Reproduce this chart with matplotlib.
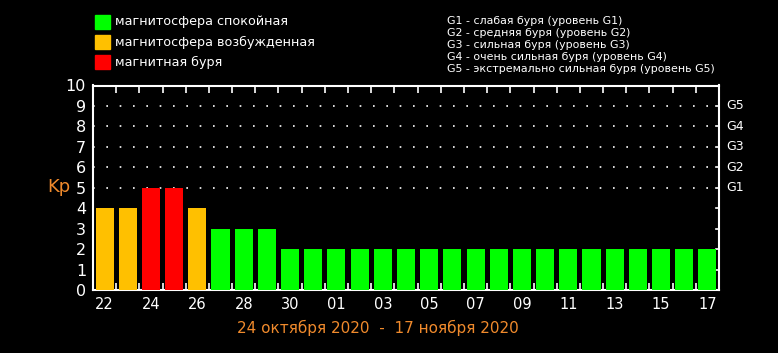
import numpy as np
import matplotlib
matplotlib.use('Agg')
import matplotlib.pyplot as plt
from matplotlib.patches import Rectangle

# данные
days = ['22', '23', '24', '25', '26', '27', '28', '29', '30', '31',
        '01', '02', '03', '04', '05', '06', '07', '08', '09', '10',
        '11', '12', '13', '14', '15', '16', '17']
kp = [4, 4, 5, 5, 4, 3, 3, 3, 2, 2,
      2, 2, 2, 2, 2, 2, 2, 2, 2, 2,
      2, 2, 2, 2, 2, 2, 2]
g_levels = ['G1', 'G2', 'G3', 'G4', 'G5']
g_text = ['G1 - слабая буря (уровень G1)',
          'G2 - средняя буря (уровень G2)',
          'G3 - сильная буря (уровень G3)',
          'G4 - очень сильная буря (уровень G4)',
          'G5 - экстремально сильная буря (уровень G5)']
legend_labels = ['магнитосфера спокойная', 'магнитосфера возбужденная', 'магнитная буря']

GREEN = '#00ff00'
ORANGE = '#ffc000'
RED = '#ff0000'
KPCOL = '#f08a2c'
legend_colors = [GREEN, ORANGE, RED]

def kp_color(v):
    if v >= 5:
        return RED
    if v == 4:
        return ORANGE
    return GREEN

fig = plt.figure(figsize=(7.78, 3.53), dpi=100, facecolor='black')
ax = fig.add_axes([93/778, 1-290/353, (719-93)/778, (290-85.5)/353])
ax.set_facecolor('black')

x = np.arange(len(days))
ax.bar(x, kp, width=0.78, color=[kp_color(v) for v in kp], zorder=3)

ax.set_xlim(-0.5, len(days) - 0.5)
ax.set_ylim(0, 10)

for s in ax.spines.values():
    s.set_color('white')
    s.set_linewidth(1.5)

# пунктирная сетка 5..9
for yv in range(5, 10):
    ax.axhline(yv, color='white', linestyle=(0, (1, 7)), linewidth=1.2, zorder=1)

# подписи оси X
ax.set_xticks(x[::2])
ax.set_xticklabels(days[::2], color='white', fontsize=10.5)
ax.tick_params(axis='x', length=0, pad=5)
ax.set_xticks(np.arange(0.5, len(days) - 0.5), minor=True)
ax.tick_params(axis='x', which='minor', direction='in', length=5, width=1.2,
               color='white', top=True, bottom=True)

ax.set_yticks(range(0, 11))
ax.set_yticklabels([str(i) for i in range(11)], color='white', fontsize=11.5)
ax.tick_params(axis='y', length=0, pad=5)

# правые засечки
for yv in range(1, 10):
    ax.plot([1.0, 0.995], [yv, yv], color='white', lw=1.2,
            transform=ax.get_yaxis_transform(), clip_on=False)

for i, g in enumerate(g_levels):
    ax.text(1.012, 5 + i, g, color='white', fontsize=9, va='center', ha='left',
            transform=ax.get_yaxis_transform())

fig.text(47/778, 1-187/353, 'Kp', color=KPCOL, fontsize=13, va='center', ha='left')
fig.text(378/778, 1-328/353, '24 октября 2020  -  17 ноября 2020', color=KPCOL,
         fontsize=11, ha='center', va='center')

# легенда
for i, (lab, c) in enumerate(zip(legend_labels, legend_colors)):
    y0 = 15 + i*20
    fig.patches.append(Rectangle((95/778, 1-(y0+14)/353), 15/778, 14/353,
                                 transform=fig.transFigure, color=c))
    fig.text(115/778, 1-(y0+7)/353, lab, color='white', fontsize=9.2,
             va='center', ha='left')

for i, t in enumerate(g_text):
    fig.text(447/778, 1-(21.5+i*11.8)/353, t, color='white', fontsize=7.9,
             va='center', ha='left')

fig.savefig('out.png', dpi=100, facecolor='black')
